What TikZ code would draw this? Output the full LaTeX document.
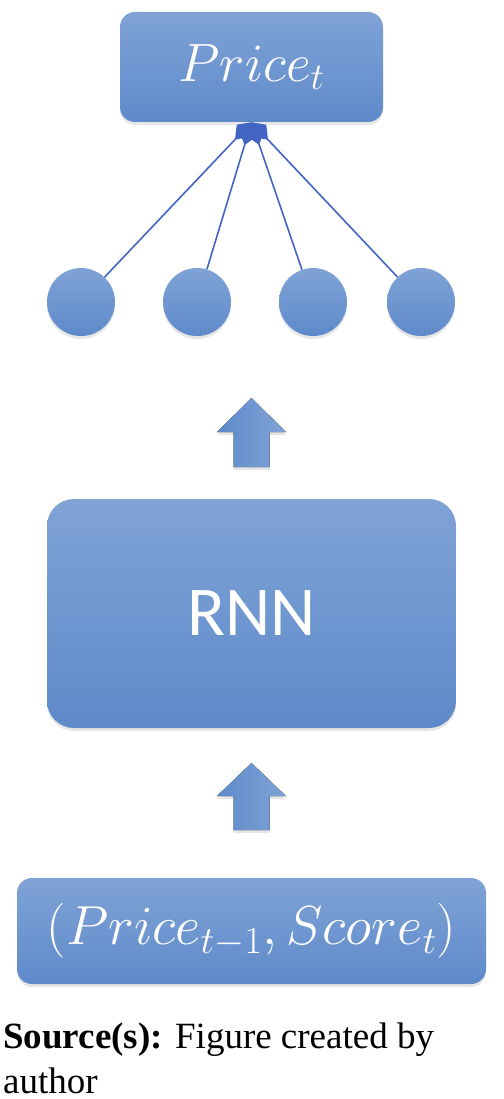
\RequirePackage{fix-cm}
\documentclass[tikz,border=0pt]{standalone}
\usepackage{fontspec}
\setmainfont{Liberation Serif}
\newfontfamily\rnnfont{Carlito}
\usepackage{tikz}
\usetikzlibrary{positioning,shadows,arrows.meta}
\definecolor{boxtop}{RGB}{128,163,214}
\definecolor{boxbottom}{RGB}{94,138,202}
\definecolor{linkblue}{RGB}{66,101,196}

\begin{document}
\begin{tikzpicture}[x=1pt,y=-1pt,
	block/.style={rounded corners=15pt, top color=boxtop, bottom color=boxbottom, text=white, inner sep=0pt, drop shadow={opacity=0.2,shadow xshift=0pt,shadow yshift=-3pt}},
	unit/.style={circle, minimum size=68pt, inner sep=0pt, top color=boxtop, bottom color=boxbottom, drop shadow={opacity=0.2,shadow xshift=0pt,shadow yshift=-3pt}},
	link/.style={linkblue, line width=1.6pt, -{Diamond[length=24pt,width=18pt]}},
	uparrow/.style={left color=boxbottom, right color=boxtop, drop shadow={opacity=0.2,shadow xshift=0pt,shadow yshift=-3pt}}]
\useasboundingbox (0,0) rectangle (503,1099);

% output
\node[block, minimum width=263pt, minimum height=110pt, font=\fontsize{54}{60}\selectfont] (price) at (251.5,67) {$Price_t$};

% hidden units
\node[unit] (h1) at (81,302) {};
\node[unit] (h2) at (197,302) {};
\node[unit] (h3) at (313,302) {};
\node[unit] (h4) at (421,302) {};
\foreach \h in {h1,h2,h3,h4}
	\draw[link] (\h) -- (price.south);

% recurrent layer
\node[block, rounded corners=27pt, minimum width=409pt, minimum height=229pt, font=\rnnfont\fontsize{70}{80}\selectfont] (rnn) at (251.5,613.5) {RNN};

% input
\node[block, minimum width=469pt, minimum height=106pt, font=\fontsize{55}{60}\selectfont] (input) at (251.5,931) {$(Price_{t-1},Score_t)$};

% block arrows
\coordinate (uptip) at (251.5,398);
\coordinate (intip) at (251.5,763);
\fill[uparrow] (uptip) -- ++(34.5,34) -- ++(-16.5,0) -- ++(0,35) -- ++(-36,0) -- ++(0,-35) -- ++(-16.5,0) -- cycle;
\fill[uparrow] (intip) -- ++(34.5,33) -- ++(-16.5,0) -- ++(0,34) -- ++(-36,0) -- ++(0,-34) -- ++(-16.5,0) -- cycle;

% caption
\node[anchor=north west, align=left, inner sep=0pt, font=\fontsize{37}{45}\selectfont] (source) at (3,1023) {\textbf{Source(s):} Figure created by\\author};
\end{tikzpicture}
\end{document}
